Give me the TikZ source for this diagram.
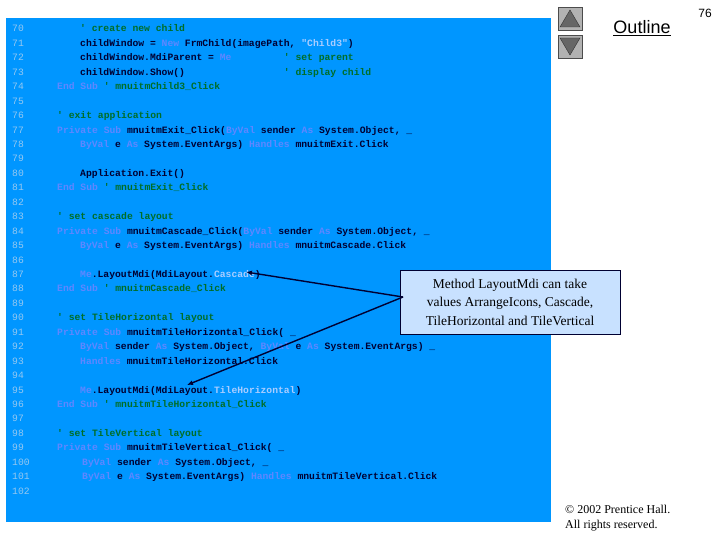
\documentclass[tikz,border=0pt]{standalone}
\usepackage{fontspec}
\setmainfont{Liberation Serif}
\newfontfamily\codef{Liberation Mono}
\newfontfamily\sansf{Liberation Sans}
\usetikzlibrary{arrows.meta}
\definecolor{bg}{RGB}{0,150,255}
\definecolor{kwc}{RGB}{95,135,255}
\definecolor{cmc}{RGB}{0,110,40}
\definecolor{stc}{RGB}{170,205,255}
\definecolor{txc}{RGB}{0,0,50}
\definecolor{lnc}{RGB}{150,200,240}
\definecolor{callout}{RGB}{200,225,255}
\newcommand{\kw}[1]{\textcolor{kwc}{#1}}
\newcommand{\cm}[1]{\textcolor{cmc}{#1}}
\newcommand{\st}[1]{\textcolor{stc}{#1}}
\newcommand{\spc}[1]{\hspace*{#1\dimexpr 5.82pt\relax}}
\begin{document}
\begin{tikzpicture}[x=1pt,y=-1pt,
  ln/.style={anchor=base west,inner sep=0,font=\codef\fontsize{9.7}{10}\selectfont,text=lnc},
  cd/.style={anchor=base west,inner sep=0,font=\codef\bfseries\fontsize{9.7}{10}\selectfont,text=txc},
  btn/.style={draw=black!70,fill=black!30,line width=0.6pt},
  tri/.style={fill=black!60,draw=black!80,line width=0.4pt},
  arr/.style={-{Latex[length=6pt,width=5pt]},line width=1.4pt,draw=txc}]
\useasboundingbox (0,0) rectangle (720,540);
\fill[white] (0,0) rectangle (720,540);
\fill[bg] (6,18) rectangle (551,522);
\foreach \n [count=\i from 0] in {70,...,102}{
  \node[ln] (l\n) at (12,{32+\i*14.44}) {\n};
}
\def\Y#1{{32+(#1-70)*14.44}}
\node[cd] (c70) at (80,\Y{70}) {\cm{' create new child}};
\node[cd] (c71) at (80,\Y{71}) {childWindow = \kw{New} FrmChild(imagePath, \st{"Child3"})};
\node[cd] (c72) at (80,\Y{72}) {childWindow.MdiParent = \kw{Me}\spc{9}\cm{' set parent}};
\node[cd] (c73) at (80,\Y{73}) {childWindow.Show()\spc{17}\cm{' display child}};
\node[cd] (c74) at (57,\Y{74}) {\kw{End Sub} \cm{' mnuitmChild3\_Click}};
\node[cd] (c76) at (57,\Y{76}) {\cm{' exit application}};
\node[cd] (c77) at (57,\Y{77}) {\kw{Private Sub} mnuitmExit\_Click(\kw{ByVal} sender \kw{As} System.Object, \_};
\node[cd] (c78) at (80,\Y{78}) {\kw{ByVal} e \kw{As} System.EventArgs) \kw{Handles} mnuitmExit.Click};
\node[cd] (c80) at (80,\Y{80}) {Application.Exit()};
\node[cd] (c81) at (57,\Y{81}) {\kw{End Sub} \cm{' mnuitmExit\_Click}};
\node[cd] (c83) at (57,\Y{83}) {\cm{' set cascade layout}};
\node[cd] (c84) at (57,\Y{84}) {\kw{Private Sub} mnuitmCascade\_Click(\kw{ByVal} sender \kw{As} System.Object, \_};
\node[cd] (c85) at (80,\Y{85}) {\kw{ByVal} e \kw{As} System.EventArgs) \kw{Handles} mnuitmCascade.Click};
\node[cd] (c87) at (80,\Y{87}) {\kw{Me}.LayoutMdi(MdiLayout.\st{Cascade})};
\node[cd] (c88) at (57,\Y{88}) {\kw{End Sub} \cm{' mnuitmCascade\_Click}};
\node[cd] (c90) at (57,\Y{90}) {\cm{' set TileHorizontal layout}};
\node[cd] (c91) at (57,\Y{91}) {\kw{Private Sub} mnuitmTileHorizontal\_Click( \_};
\node[cd] (c92) at (80,\Y{92}) {\kw{ByVal} sender \kw{As} System.Object, \kw{ByVal} e \kw{As} System.EventArgs) \_};
\node[cd] (c93) at (80,\Y{93}) {\kw{Handles} mnuitmTileHorizontal.Click};
\node[cd] (c95) at (80,\Y{95}) {\kw{Me}.LayoutMdi(MdiLayout.\st{TileHorizontal})};
\node[cd] (c96) at (57,\Y{96}) {\kw{End Sub} \cm{' mnuitmTileHorizontal\_Click}};
\node[cd] (c98) at (57,\Y{98}) {\cm{' set TileVertical layout}};
\node[cd] (c99) at (57,\Y{99}) {\kw{Private Sub} mnuitmTileVertical\_Click( \_};
\node[cd] (c100) at (82,\Y{100}) {\kw{ByVal} sender \kw{As} System.Object, \_};
\node[cd] (c101) at (82,\Y{101}) {\kw{ByVal} e \kw{As} System.EventArgs) \kw{Handles} mnuitmTileVertical.Click};
% callout
\node[draw=txc,fill=callout,line width=0.6pt,minimum width=220pt,minimum height=64pt,align=center,
  font=\fontsize{13.5}{18.5}\selectfont,inner sep=2pt] (co) at (510,302)
  {Method LayoutMdi can take\\values ArrangeIcons, Cascade,\\TileHorizontal and TileVertical};
\coordinate (src) at (403,297);
\coordinate (t1) at (246,272);
\coordinate (t2) at (187,385);
\draw[arr] (src) -- (t1);
\draw[arr] (src) -- (t2);
% buttons
\draw[btn] (558,7) rectangle (582,30);
\fill[tri] (570,10) -- (580,27) -- (560,27) -- cycle;
\draw[btn] (558,35) rectangle (582,58);
\fill[tri] (560,38) -- (580,38) -- (570,55) -- cycle;
\node[font=\sansf\fontsize{18}{20}\selectfont,inner sep=0] (out) at (642,28) {\underline{Outline}};
\node[font=\sansf\fontsize{12}{14}\selectfont,inner sep=0] (pg) at (705,13) {76};
\node[anchor=west,font=\fontsize{12}{15}\selectfont,inner sep=0,align=left] (cp) at (565,518)
  {\textcopyright\ 2002 Prentice Hall.\\All rights reserved.};
\end{tikzpicture}
\end{document}
